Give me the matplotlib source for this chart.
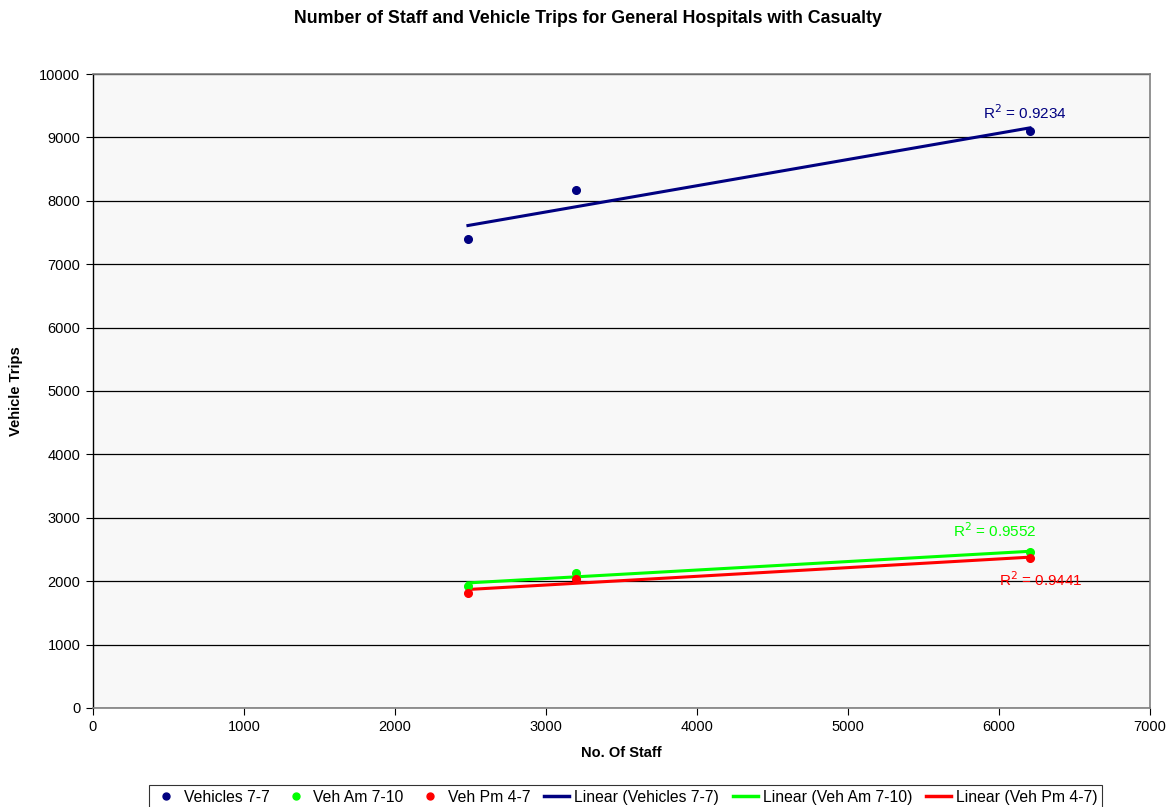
import numpy as np
import matplotlib
matplotlib.use("Agg")
import matplotlib.pyplot as plt
from matplotlib.lines import Line2D

plt.rcParams['font.family'] = ['Liberation Sans', 'DejaVu Sans']

# Staff numbers per hospital and observed vehicle trips
staff = [2483, 3199, 6205]
veh_7_7 = [7397, 8170, 9100]
veh_am_7_10 = [1924, 2129, 2460]
veh_pm_4_7 = [1814, 2035, 2366]

series_names = ["Vehicles 7-7", "Veh Am 7-10", "Veh Pm 4-7"]
series_colors = ["#000080", "#00ff00", "#ff0000"]
r2_labels = ["0.9234", "0.9552", "0.9441"]
r2_pos = [(5894, 9385), (5695, 2792), (6000, 2019)]

x_ticks = [0, 1000, 2000, 3000, 4000, 5000, 6000, 7000]
y_ticks = [0, 1000, 2000, 3000, 4000, 5000, 6000, 7000, 8000, 9000, 10000]

fig = plt.figure(figsize=(11.74, 8.07), dpi=100)
ax = fig.add_axes([0.0792, 0.1227, 0.9004, 0.7856])
ax.set_facecolor("#f8f8f8")

ax.set_xlim(0, 7000)
ax.set_ylim(0, 10000)
ax.set_xticks(x_ticks)
ax.set_yticks(y_ticks)
ax.tick_params(axis='both', labelsize=10.5, length=5, width=0.8, direction='out', pad=4)
ax.yaxis.grid(True, color='black', linewidth=0.9)
ax.set_axisbelow(True)

for side in ['top', 'right', 'bottom']:
    ax.spines[side].set_color('#808080')
    ax.spines[side].set_linewidth(1.2)
ax.spines['left'].set_color('black')
ax.spines['left'].set_linewidth(1.0)

x = np.array(staff, dtype=float)
all_series = [veh_7_7, veh_am_7_10, veh_pm_4_7]
handles_pts = []
handles_lines = []
for ys, name, col in zip(all_series, series_names, series_colors):
    y = np.array(ys, dtype=float)
    slope, icpt = np.polyfit(x, y, 1)
    xs = np.array([x.min(), x.max()])
    ax.plot(xs, slope * xs + icpt, color=col, linewidth=2.2, zorder=3)
    ax.plot(x, y, 'o', color=col, markersize=5.5, zorder=4)
    handles_pts.append(Line2D([], [], marker='o', linestyle='none', color=col,
                              markersize=5, label=name))
    handles_lines.append(Line2D([], [], color=col, linewidth=2.5,
                                label=f"Linear ({name})"))

for (tx, ty), lab, col in zip(r2_pos, r2_labels, series_colors):
    ax.text(tx, ty, f"R$^2$ = {lab}", color=col, fontsize=11,
            ha='left', va='center', zorder=5)

ax.set_xlabel("No. Of Staff", fontsize=10.5, fontweight='bold', labelpad=8)
ax.set_ylabel("Vehicle Trips", fontsize=10.5, fontweight='bold', labelpad=12)

fig.text(0.501, 0.977, "Number of Staff and Vehicle Trips for General Hospitals with Casualty",
         ha='center', va='center', fontsize=12.8, fontweight='bold')

leg = fig.legend(handles=handles_pts + handles_lines, loc='upper center',
                 bbox_to_anchor=(0.533, 0.027), ncol=6, fontsize=11.3,
                 frameon=True, fancybox=False, edgecolor='black',
                 handlelength=1.6, handletextpad=0.3, columnspacing=0.9,
                 borderpad=0.3, borderaxespad=0)
leg.get_frame().set_linewidth(0.8)

fig.savefig("out.png", dpi=100)
